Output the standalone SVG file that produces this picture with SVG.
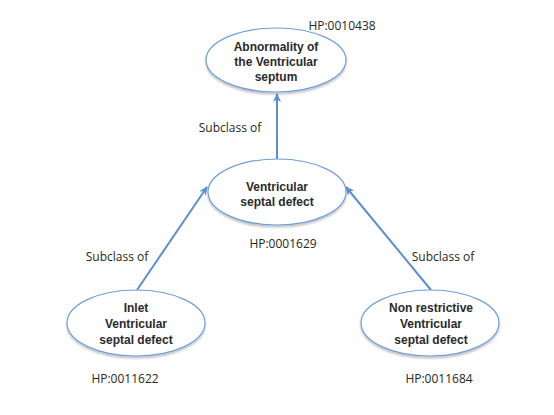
<svg xmlns="http://www.w3.org/2000/svg" width="554" height="415" viewBox="0 0 554 415">
<defs>
<marker id="ah" markerWidth="10" markerHeight="10" refX="8" refY="5" orient="auto" markerUnits="userSpaceOnUse">
<path d="M0,1 L9,5 L0,9 L2.5,5 Z" fill="#5b8fcf"/>
</marker>
<filter id="sh" x="-20%" y="-20%" width="140%" height="150%">
<feGaussianBlur in="SourceAlpha" stdDeviation="1.2"/>
<feOffset dx="0" dy="2" result="b"/>
<feComponentTransfer><feFuncA type="linear" slope="0.25"/></feComponentTransfer>
<feMerge><feMergeNode/><feMergeNode in="SourceGraphic"/></feMerge>
</filter>
</defs>
<style>
.node ellipse{fill:#ffffff;stroke:#6f9fd8;stroke-width:1.2}
.nt{font-family:"Liberation Sans",Arial,sans-serif;font-size:12px;font-weight:bold;fill:#2a2a2a;text-anchor:middle}
.lbl{font-family:"Open Sans","Liberation Sans",sans-serif;font-size:12px;fill:#262626;text-anchor:middle}
.edge{stroke:#5b8fcf;stroke-width:2;fill:none}
</style>
<rect width="554" height="415" fill="#ffffff"/>
<g id="connectors">
<line class="edge" x1="277" y1="160" x2="277" y2="94" marker-end="url(#ah)"/>
<line class="edge" x1="137" y1="290" x2="207" y2="187" marker-end="url(#ah)"/>
<line class="edge" x1="431" y1="290" x2="346" y2="187" marker-end="url(#ah)"/>
<text class="lbl" x="230" y="132">Subclass of</text>
<text class="lbl" x="117" y="261">Subclass of</text>
<text class="lbl" x="443" y="261">Subclass of</text>
</g>
<g id="node-top" class="node">
<ellipse cx="276" cy="60" rx="70" ry="32" filter="url(#sh)"/>
<text class="nt" x="276" y="51">Abnormality of</text>
<text class="nt" x="276" y="66">the Ventricular</text>
<text class="nt" x="276" y="81">septum</text>
<text class="lbl" x="342" y="30">HP:0010438</text>
</g>
<g id="node-mid" class="node">
<ellipse cx="277" cy="192" rx="69" ry="33" filter="url(#sh)"/>
<text class="nt" x="277" y="191">Ventricular</text>
<text class="nt" x="277" y="206">septal defect</text>
<text class="lbl" x="283" y="248">HP:0001629</text>
</g>
<g id="node-left" class="node">
<ellipse cx="136" cy="323" rx="69" ry="33" filter="url(#sh)"/>
<text class="nt" x="136" y="312">Inlet</text>
<text class="nt" x="136" y="328">Ventricular</text>
<text class="nt" x="136" y="344">septal defect</text>
<text class="lbl" x="125" y="383">HP:0011622</text>
</g>
<g id="node-right" class="node">
<ellipse cx="430" cy="323" rx="69" ry="33" filter="url(#sh)"/>
<text class="nt" x="431" y="312">Non restrictive</text>
<text class="nt" x="431" y="328">Ventricular</text>
<text class="nt" x="431" y="344">septal defect</text>
<text class="lbl" x="439" y="383">HP:0011684</text>
</g>
</svg>
